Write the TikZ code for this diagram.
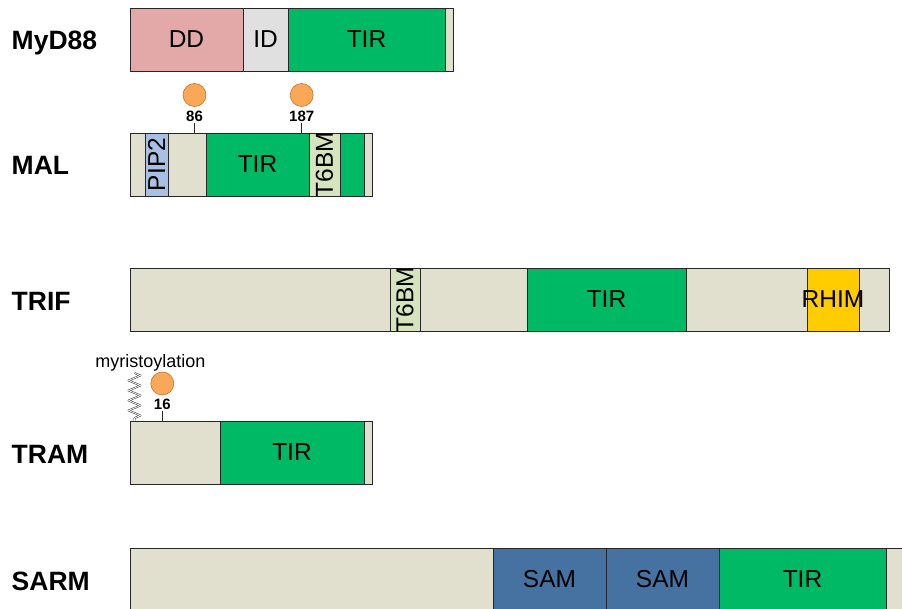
\documentclass[tikz,border=0pt]{standalone}
\usepackage{fontspec}
\setmainfont{Liberation Sans}
\usetikzlibrary{positioning,math,decorations.pathmorphing}

\definecolor{ddpink}{RGB}{227,169,169}
\definecolor{idgray}{RGB}{224,224,224}
\definecolor{tirgreen}{RGB}{0,185,100}
\definecolor{beige}{RGB}{225,223,205}
\definecolor{pipblue}{RGB}{168,193,226}
\definecolor{tbmgreen}{RGB}{214,228,190}
\definecolor{rhimyellow}{RGB}{255,204,0}
\definecolor{samblue}{RGB}{70,114,162}
\definecolor{siteorange}{RGB}{249,168,88}
\definecolor{siteline}{RGB}{196,116,48}

\newcommand\domfont{\fontsize{24.5}{24.5}\selectfont}

\begin{document}
\begin{tikzpicture}[x=1pt,y=-1pt]

\tikzmath{
	\bh = 63;
}

\tikzset{dom/.style={
    draw=black!85, line width=0.8pt,
    minimum width=#1, minimum height=\bh,
    anchor=north west,
    inner sep=0pt, outer sep=0pt,
    font=\domfont
  },
  dom/.default=20pt,
  prot/.style={anchor=base west, inner sep=0pt, font=\bfseries\fontsize{26.5}{26.5}\selectfont},
  site/.style={circle, fill=siteorange, draw=siteline, line width=0.6pt,
    minimum size=23pt, inner sep=0pt},
  resnum/.style={inner sep=1pt, font=\bfseries\fontsize{15}{15}\selectfont},
  stick/.style={line width=0.8pt, black!85},
  vtext/.style={rotate=90, font=\domfont}
}

\clip (0,0) rectangle (902,609);

% protein names
\node[prot] (lbl-myd) at (11.5,49.5) {MyD88};
\node[prot] (lbl-mal) at (11.5,175) {MAL};
\node[prot] (lbl-trif) at (11.5,310.5) {TRIF};
\node[prot] (lbl-tram) at (11.5,463.5) {TRAM};
\node[prot] (lbl-sarm) at (11.5,590) {SARM};

% MyD88
\node[dom=113pt, fill=ddpink] (myd1) at (130,8) {DD};
\node[dom=45pt, fill=idgray, right=0pt of myd1] (myd2) {ID};
\node[dom=157pt, fill=tirgreen, right=0pt of myd2] (myd3) {TIR};
\node[dom=8pt, fill=beige, right=0pt of myd3] (myd4) {};

% MAL
\node[dom=15pt, fill=beige] (mal1) at (130,133) {};
\node[dom=23pt, fill=pipblue, right=0pt of mal1, label={[vtext]center:PIP2}] (mal2) {};
\node[dom=38pt, fill=beige, right=0pt of mal2] (mal3) {};
\node[dom=103pt, fill=tirgreen, right=0pt of mal3] (mal4) {TIR};
\node[dom=31pt, fill=tbmgreen, right=0pt of mal4, label={[vtext]center:T6BM}] (mal5) {};
\node[dom=24pt, fill=tirgreen, right=0pt of mal5] (mal6) {};
\node[dom=8pt, fill=beige, right=0pt of mal6] (mal7) {};

\node[site] (s86) at (194.5,95) {};
\node[resnum] (n86) at (194.5,116) {86};
\draw[stick] (n86.south) -- (n86.south |- mal3.north);
\node[site] (s187) at (301.7,95) {};
\node[resnum] (n187) at (301.7,116) {187};
\draw[stick] (n187.south) -- (n187.south |- mal4.north);

% TRIF
\node[dom=260pt, fill=beige] (trif1) at (130,268) {};
\node[dom=30pt, fill=tbmgreen, right=0pt of trif1, label={[vtext]center:T6BM}] (trif2) {};
\node[dom=107pt, fill=beige, right=0pt of trif2] (trif3) {};
\node[dom=159pt, fill=tirgreen, right=0pt of trif3] (trif4) {TIR};
\node[dom=121pt, fill=beige, right=0pt of trif4] (trif5) {};
\node[dom=52pt, fill=rhimyellow, right=0pt of trif5] (trif6) {};
\node[dom=30pt, fill=beige, right=0pt of trif6] (trif7) {};
\node[font=\domfont, inner sep=0pt] (rhim) at (trif6.center) {RHIM};

% TRAM
\node[dom=90pt, fill=beige] (tram1) at (130,421) {};
\node[dom=144pt, fill=tirgreen, right=0pt of tram1] (tram2) {TIR};
\node[dom=8pt, fill=beige, right=0pt of tram2] (tram3) {};

\coordinate (myr) at (134.5,373);
\draw[decorate, decoration={zigzag, amplitude=6pt, segment length=10pt},
  line width=0.5pt, draw=black!80, double=white, double distance=0.8pt, line join=round]
  (myr) -- (myr |- tram1.north);
\node[font=\fontsize{18}{18}\selectfont, anchor=base, inner sep=0pt] (myr-lbl) at (150.5,368) {myristoylation};
\node[site] (s16) at (162.3,383.5) {};
\node[resnum] (n16) at (162.3,404) {16};
\draw[stick] (n16.south) -- (n16.south |- tram1.north);

% SARM
\node[dom=363pt, fill=beige] (sarm1) at (130,548) {};
\node[dom=113pt, fill=samblue, right=0pt of sarm1] (sarm2) {SAM};
\node[dom=113pt, fill=samblue, right=0pt of sarm2] (sarm3) {SAM};
\node[dom=167pt, fill=tirgreen, right=0pt of sarm3] (sarm4) {TIR};
\node[dom=40pt, fill=beige, right=0pt of sarm4] (sarm5) {};

\end{tikzpicture}
\end{document}
